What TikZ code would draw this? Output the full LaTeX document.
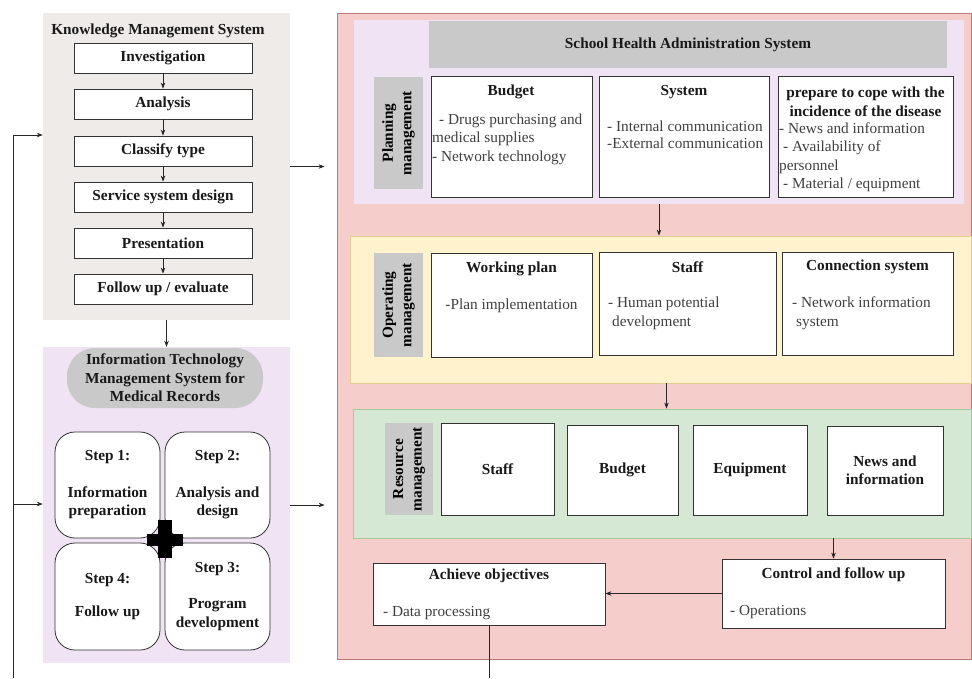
\documentclass[tikz,border=0pt]{standalone}
\usepackage{fontspec}
\setmainfont{Liberation Serif}
\usetikzlibrary{arrows.meta,positioning}

\definecolor{kmsgray}{HTML}{EEEBE8}
\definecolor{lilac}{HTML}{F0E3F3}
\definecolor{rosefill}{HTML}{F5CDCB}
\definecolor{roseline}{HTML}{B87C78}
\definecolor{creamfill}{HTML}{FFF2CC}
\definecolor{creamline}{HTML}{E3CC8E}
\definecolor{mintfill}{HTML}{D5E8D4}
\definecolor{mintline}{HTML}{A9C79B}
\definecolor{labgray}{HTML}{C9C9C9}

\newcommand\fsz{\fontsize{15.3}{18.5}\selectfont}

\tikzset{
  box/.style={draw=black!80, fill=white, line width=0.8pt, inner sep=0pt},
  ttl/.style={font=\fsz\bfseries, text=black!90, inner sep=0pt, align=center},
  txt/.style={font=\fsz, text=black!75, inner sep=0pt, align=left},
  lbl/.style={fill=labgray, inner sep=0pt, rotate=90, font=\fsz\bfseries, align=center},
  arr/.style={-{Stealth[length=6pt,width=4.5pt]}, line width=0.8pt, draw=black!85},
  lnk/.style={line width=0.8pt, draw=black!85}
}

\begin{document}
\begin{tikzpicture}[x=1pt, y=-1pt]
\useasboundingbox (0,0) rectangle (972,678);

% knowledge management
\node [fill=kmsgray, minimum width=247, minimum height=307, inner sep=0pt] (kms) at (166.5,166.5) {};
\node [ttl] at (158,31) {Knowledge Management System};
\node [box, ttl, minimum width=178, minimum height=30] (inv) at (163,58) {Investigation};
\node [box, ttl, minimum width=178, minimum height=30] (ana) at (163,104) {Analysis};
\node [box, ttl, minimum width=178, minimum height=30] (cls) at (163,151) {Classify type};
\node [box, ttl, minimum width=178, minimum height=30] (ssd) at (163,197) {Service system design};
\node [box, ttl, minimum width=178, minimum height=30] (pre) at (163,243) {Presentation};
\node [box, ttl, minimum width=178, minimum height=30] (fol) at (163,289) {Follow up / evaluate};

\draw [arr] (inv) -- (ana);
\draw [arr] (ana) -- (cls);
\draw [arr] (cls) -- (ssd);
\draw [arr] (ssd) -- (pre);
\draw [arr] (pre) -- (fol);

% medical records
\node [fill=lilac, minimum width=247, minimum height=316, inner sep=0pt] (itms) at (166.5,505) {};
\node [fill=labgray, rounded corners=28, minimum width=196, minimum height=60, ttl] (itmsHead) at (165,378)
  {Information Technology\\Management System for\\Medical Records};
\node [box, ttl, rounded corners=20, minimum width=105, minimum height=106] (st1) at (107.5,485)
  {Step 1:\\[18pt]Information\\preparation};
\node [box, ttl, rounded corners=20, minimum width=105, minimum height=106] (st2) at (217.5,485)
  {Step 2:\\[18pt]Analysis and\\design};
\node [box, ttl, rounded corners=20, minimum width=105, minimum height=107] (st4) at (107.5,596.5)
  {Step 4:\\[15pt]Follow up};
\node [box, ttl, rounded corners=20, minimum width=105, minimum height=107] (st3) at (217.5,596.5)
  {Step 3:\\[18pt]Program\\development};
\fill [black] (158,520) rectangle (172,558);
\fill [black] (147,534) rectangle (183,546);

\draw [arr] (kms) -- (itms);

% school health administration
\node [fill=rosefill, draw=roseline, line width=0.8pt, minimum width=634, minimum height=646, inner sep=0pt] (shas) at (654,336) {};

\node [fill=lilac, minimum width=610, minimum height=184, inner sep=0pt] (plan) at (659,112) {};
\node [fill=labgray, ttl, minimum width=518, minimum height=47] (shasHead) at (688,44.5) {School Health Administration System};
\node [lbl, minimum width=112, minimum height=49] (planLbl) at (398.5,133) {Planning\\management};
\node [box, minimum width=161, minimum height=121] (planBud) at (511.5,136.5) {};
\node [box, minimum width=170, minimum height=121] (planSys) at (684,136.5) {};
\node [box, minimum width=175, minimum height=121] (planPrep) at (865.5,136.5) {};
\node [ttl] at (511,92) {Budget};
\node [txt, anchor=west] at (432,139) {\hspace{7pt}- Drugs purchasing and\\medical supplies\\- Network technology};
\node [ttl] at (684,92) {System};
\node [txt, anchor=west, font=\fontsize{15.3}{16.7}\selectfont] at (607,135) {- Internal communication\\-External communication};
\node [ttl] at (865.5,102) {prepare to cope with the\\incidence of the disease};
\node [txt, anchor=west] at (779,157) {- News and information\\\hspace{4pt}- Availability of\\personnel\\\hspace{4pt}- Material / equipment};

\node [fill=creamfill, draw=creamline, line width=0.8pt, minimum width=621, minimum height=147, inner sep=0pt] (oper) at (660.5,309.5) {};
\node [lbl, minimum width=104, minimum height=49] (operLbl) at (398.5,305) {Operating\\management};
\node [box, minimum width=161, minimum height=104] (operPlan) at (511.5,305) {};
\node [box, minimum width=177, minimum height=103] (operStaff) at (687.5,303.5) {};
\node [box, minimum width=171, minimum height=103] (operConn) at (867.5,303.5) {};
\node [ttl] at (511.5,269) {Working plan};
\node [txt] at (511.5,306) {-Plan implementation};
\node [ttl] at (687.5,267) {Staff};
\node [txt, anchor=west] at (608,313.5) {- Human potential\\\hspace{4pt}development};
\node [ttl] at (867.5,267) {Connection system};
\node [txt, anchor=west] at (792,313.5) {- Network information\\\hspace{4pt}system};

\node [fill=mintfill, draw=mintline, line width=0.8pt, minimum width=618, minimum height=129, inner sep=0pt] (res) at (662,473.5) {};
\node [lbl, minimum width=92, minimum height=48] (resLbl) at (409,469) {Resource\\management};
\node [box, ttl, minimum width=113, minimum height=92] (resStaff) at (497.5,469) {Staff};
\node [box, ttl, minimum width=111, minimum height=90] (resBud) at (622.5,470) {Budget};
\node [box, ttl, minimum width=114, minimum height=90] (resEqu) at (750,470) {Equipment};
\node [box, ttl, minimum width=116, minimum height=89] (resNews) at (885,470.5) {News and\\information};

\node [box, minimum width=232, minimum height=62] (ach) at (489,594) {};
\node [ttl] at (489,576) {Achieve objectives};
\node [txt, anchor=west] at (383,613) {- Data processing};
\node [box, minimum width=223, minimum height=69] (ctrl) at (833.5,593.5) {};
\node [ttl] at (833.5,575) {Control and follow up};
\node [txt, anchor=west] at (730,612) {- Operations};

% connectors
\draw [arr, shorten >=12pt] (kms.east) -- (kms.east -| shas.west);
\draw [arr, shorten >=12pt] (itms.east) -- (itms.east -| shas.west);
\draw [arr] (plan.south) -- (plan.south |- oper.north);
\draw [arr] ([xshift=6pt]oper.south) -- ([xshift=6pt]oper.south |- res.north);
\draw [arr] (ctrl.north |- res.south) -- (ctrl.north);
\draw [arr] (ctrl.west) -- (ctrl.west -| ach.east);

\coordinate (achEnd) at (489,678);
\draw [lnk] (ach.south) -- (achEnd);

\coordinate (fbEnd) at (13,678);
\coordinate (fbTop) at (13,135);
\coordinate (fbMid) at (13,504);
\draw [lnk] (fbEnd) -- (fbTop);
\draw [arr] (fbTop) -- (fbTop -| kms.west);
\draw [arr] (fbMid) -- (fbMid -| itms.west);

\end{tikzpicture}
\end{document}
